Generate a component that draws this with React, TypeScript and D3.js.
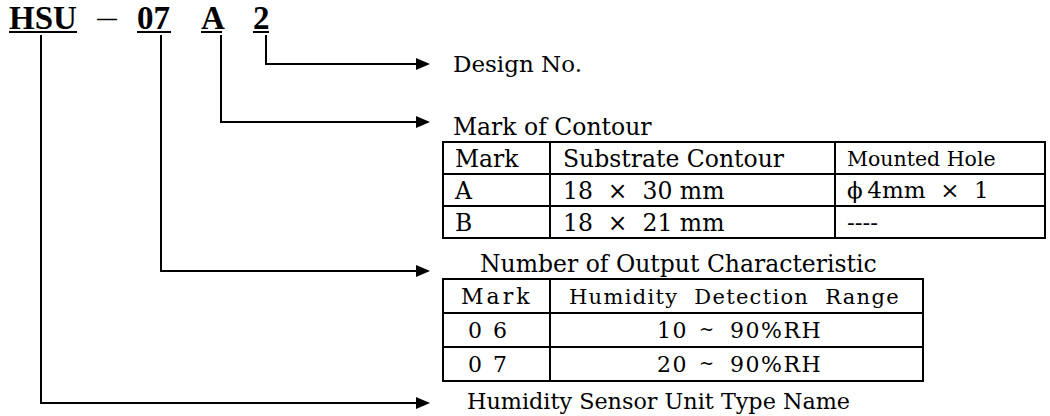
import React from "react";
import * as d3 from "d3";

// model code parts and what each one means
const codeParts = ["HSU", "07", "A", "2"];
const codeLabels = [
  "Humidity Sensor Unit Type Name",
  "Number of Output Characteristic",
  "Mark of Contour",
  "Design No.",
];

const contourHeader = ["Mark", "Substrate Contour", "Mounted Hole"];
const contourMarks = ["A", "B"];
const contourSizes = ["18\u00a0\u00a0×\u00a0\u00a030 mm", "18\u00a0\u00a0×\u00a0\u00a021 mm"];
const contourHoles = ["ϕ\u20094mm\u00a0\u00a0×\u00a0\u00a01", "----"];

const rangeHeader = ["Mark", "Humidity\u00a0\u00a0Detection\u00a0\u00a0Range"];
const rangeMarks = ["0 6", "0 7"];
const rangeValues = ["10 ~ 90%RH", "20 ~ 90%RH"];

const width = 1050;
const height = 416;
const serif = "'DejaVu Serif', serif";

// layout
const partX = [9, 137, 201, 253];
const partW = [68, 34, 21, 16];
const leaderX = [41, 161, 221, 266];
const leaderY = [403, 271, 122, 64];
const labelX = [467, 480, 453, 453];
const labelY = [409, 272, 135, 72];
const labelSize = [22.3, 23.5, 23.5, 23];
const rangePartX = [657, 699, 730];
const arrowTip = 430;
const underlineY = 32;

const Arrow = ({ y }: { y: number }) => (
  <path d={`M${arrowTip},${y}L${arrowTip - 14},${y - 6}L${arrowTip - 14},${y + 6}Z`} fill="#000" />
);

const App = () => {
  const line = d3.line<[number, number]>();

  const t1Rows = d3.scaleBand<number>().domain([0, 1, 2]).range([142, 238]);
  const t1Cols = [443, 550, 835, 1045];
  const t2Rows = d3.scaleBand<number>().domain([0, 1, 2]).range([279, 381]);
  const t2Cols = [443, 550, 923];

  const t1Data = [contourHeader, ...contourMarks.map((m, i) => [m, contourSizes[i], contourHoles[i]])];
  const t2Data = [rangeHeader, ...rangeMarks.map((m, i) => [m, rangeValues[i]])];

  const grid = (rows: d3.ScaleBand<number>, cols: number[]) => {
    const [y0, y1] = rows.range();
    const hs = rows.domain().map(d => (rows(d) as number) + rows.bandwidth());
    return (
      <g stroke="#000" strokeWidth={2} fill="none">
        <rect x={cols[0]} y={y0} width={cols[cols.length - 1] - cols[0]} height={y1 - y0} />
        {hs.slice(0, -1).map((h, i) => (
          <line key={"h" + i} x1={cols[0]} x2={cols[cols.length - 1]} y1={h} y2={h} />
        ))}
        {cols.slice(1, -1).map((c, i) => (
          <line key={"v" + i} x1={c} x2={c} y1={y0} y2={y1} />
        ))}
      </g>
    );
  };

  return (
    <svg
      width={width}
      height={height}
      style={{ position: "absolute", left: 0, top: 0, background: "#fff" }}
    >
      {/* model code */}
      <g fontFamily="'Liberation Serif', serif" fontWeight="bold" fontSize={33}>
        {codeParts.map((p, i) => (
          <g key={p}>
            <text x={partX[i]} y={29}>{p}</text>
            <line x1={partX[i]} x2={partX[i] + partW[i]} y1={underlineY} y2={underlineY} stroke="#000" strokeWidth={2} />
          </g>
        ))}
      </g>
      <text x={96} y={26} fontFamily={serif} fontSize={22}>—</text>

      {/* leaders */}
      <g stroke="#000" strokeWidth={2} fill="none">
        {leaderX.map((x, i) => (
          <path key={i} d={line([[x, 35], [x, leaderY[i]], [arrowTip - 12, leaderY[i]]]) || ""} />
        ))}
      </g>
      {leaderY.map((y, i) => <Arrow key={i} y={y} />)}

      <g fontFamily={serif}>
        {codeLabels.map((l, i) => (
          <text key={l} x={labelX[i]} y={labelY[i]} fontSize={labelSize[i]}>{l}</text>
        ))}
      </g>

      {/* contour table */}
      {grid(t1Rows, t1Cols)}
      <g fontFamily={serif} fontSize={23.5}>
        {t1Data.map((row, r) => (
          <g key={r}>
            <text x={455} y={(t1Rows(r) as number) + 25}>{row[0]}</text>
            <text x={563} y={(t1Rows(r) as number) + 25}>{row[1]}</text>
            <text x={847} y={(t1Rows(r) as number) + 24} fontSize={r === 0 ? 20.5 : 23}>{row[2]}</text>
          </g>
        ))}
      </g>

      {/* humidity range table */}
      {grid(t2Rows, t2Cols)}
      <g fontFamily={serif} fontSize={22}>
        {t2Data.map((row, r) => (
          <g key={r}>
            <text x={r === 0 ? 461 : 468} y={(t2Rows(r) as number) + 25} letterSpacing={r === 0 ? 3 : 2}>{row[0]}</text>
            {r === 0 ? (
              <text x={569} y={(t2Rows(r) as number) + 25} fontSize={21} letterSpacing={1.3}>{row[1]}</text>
            ) : (
              row[1].split(" ").map((part, j) => (
                <text key={j} x={rangePartX[j]} y={(t2Rows(r) as number) + (j === 1 ? 22 : 25)} fontSize={j === 1 ? 18 : 22} letterSpacing={1.5}>{part}</text>
              ))
            )}
          </g>
        ))}
      </g>
    </svg>
  );
};

export default App;
